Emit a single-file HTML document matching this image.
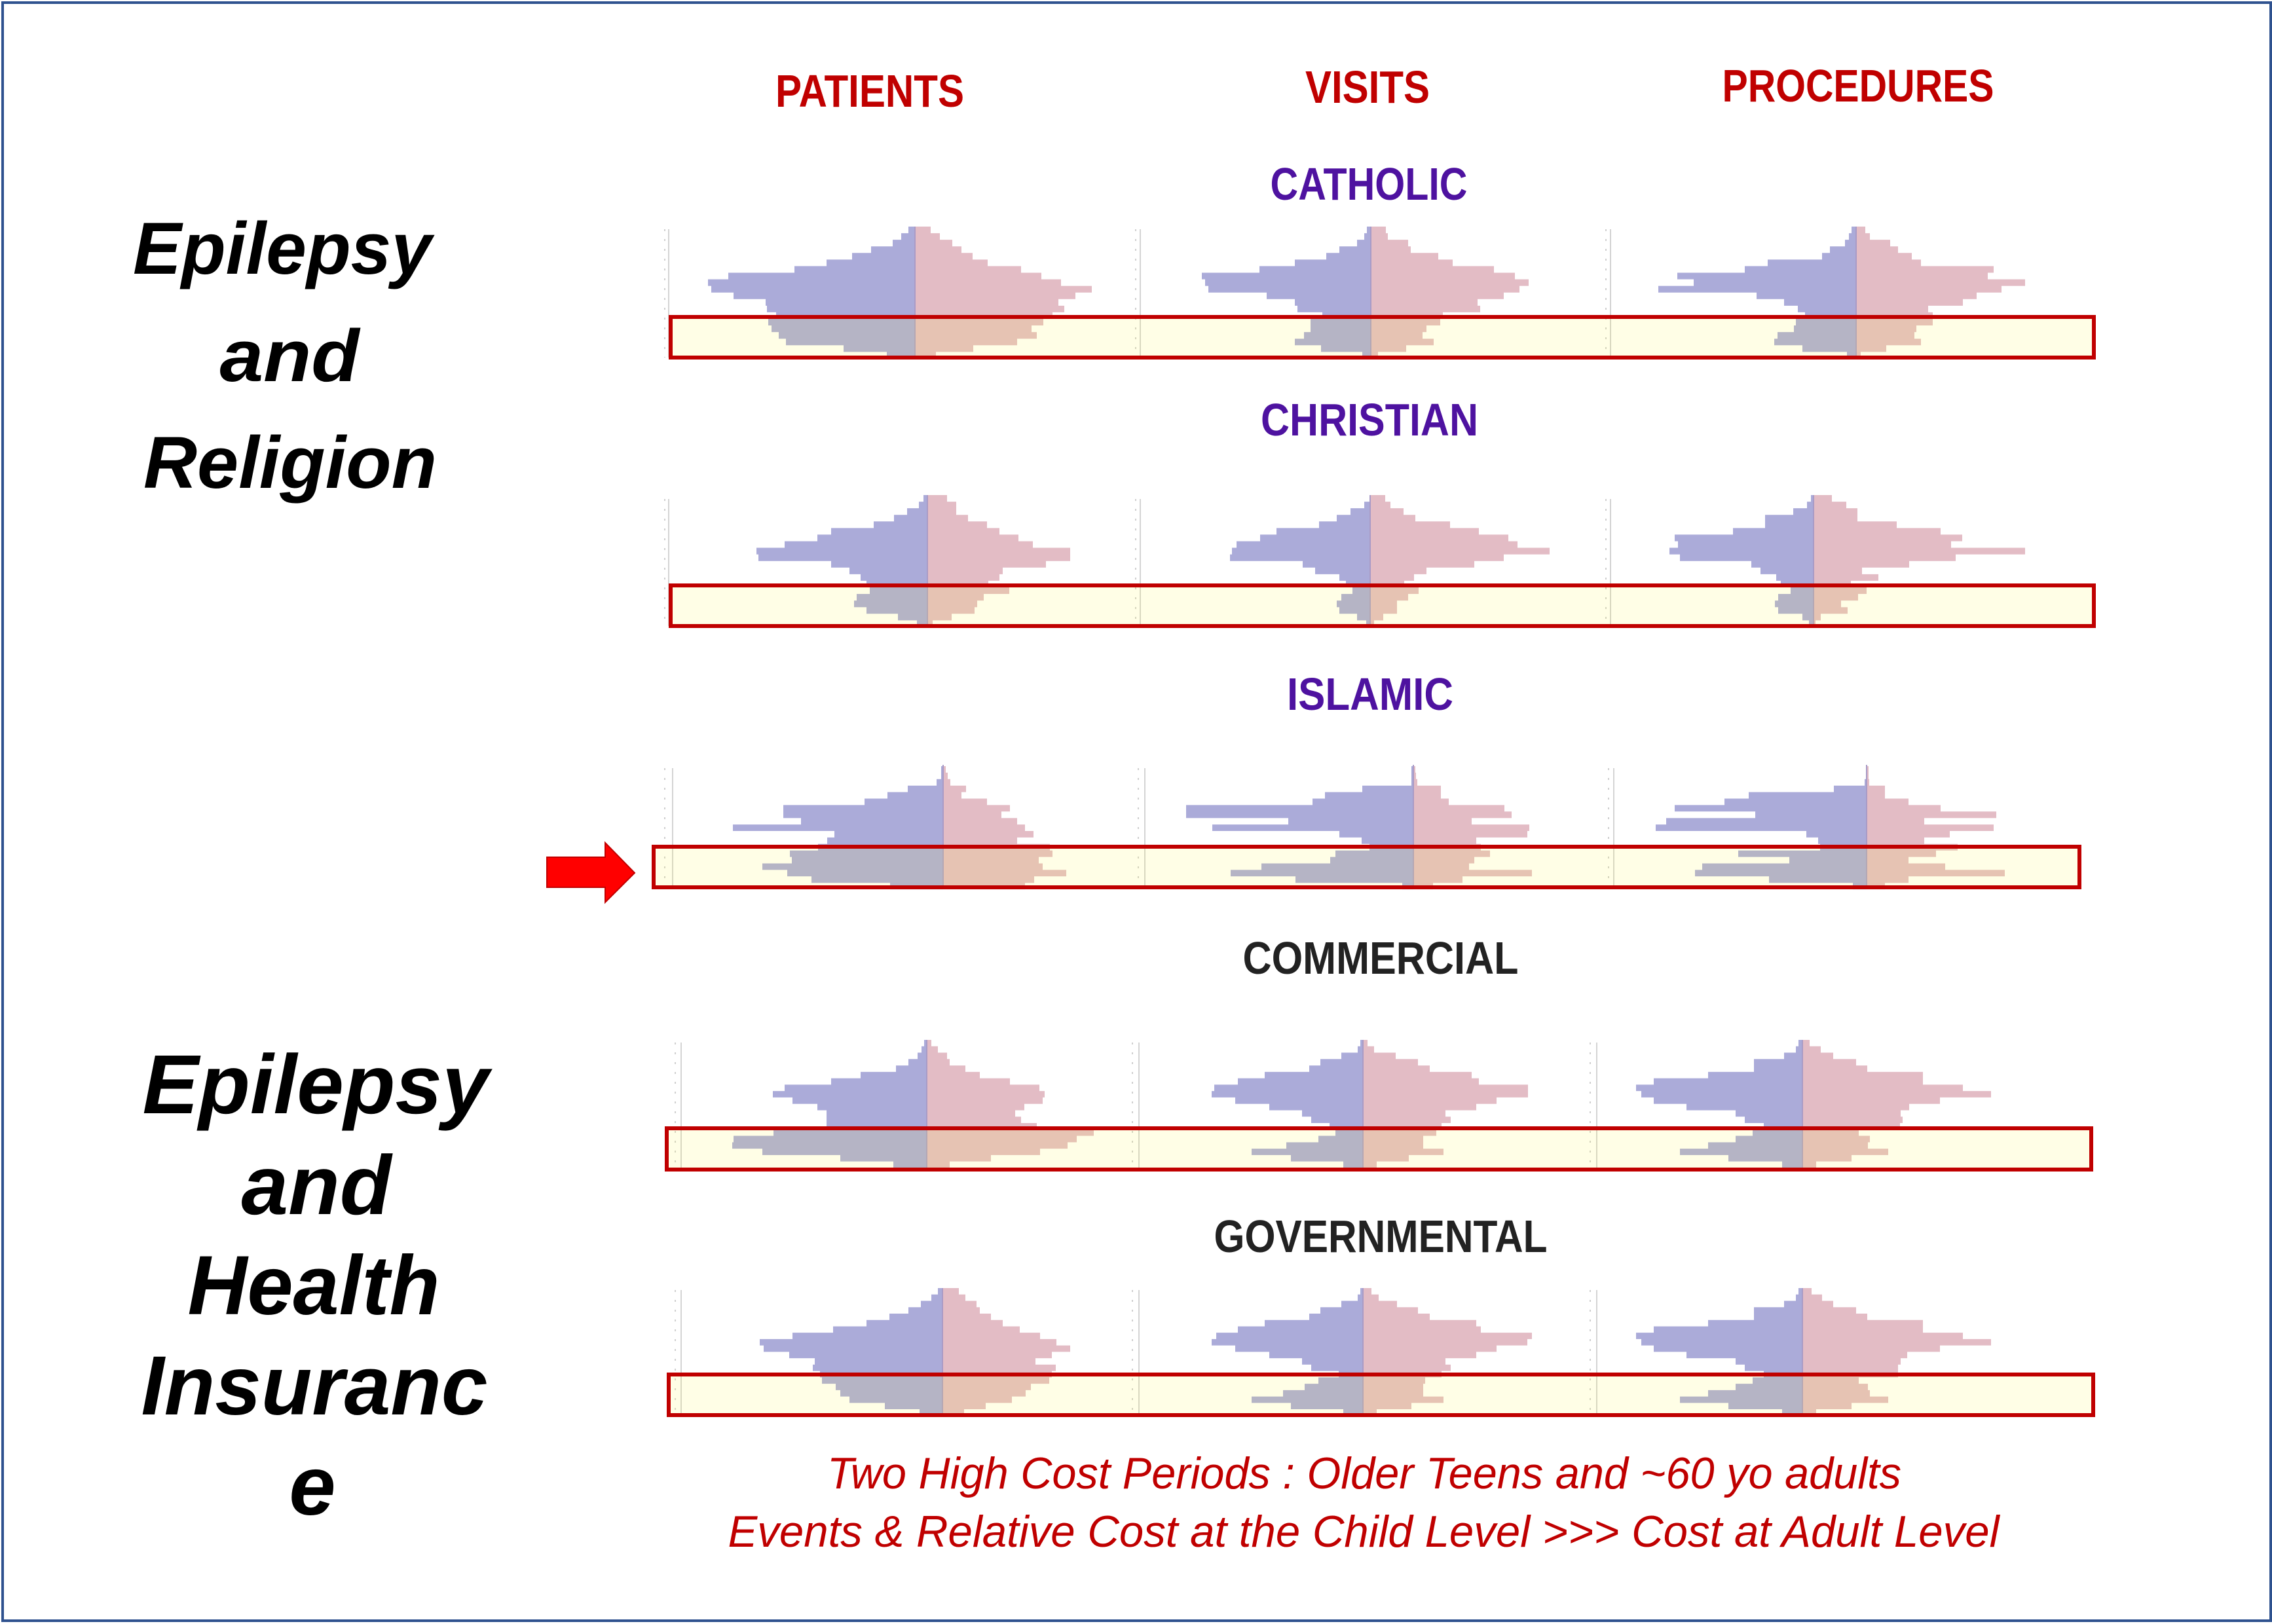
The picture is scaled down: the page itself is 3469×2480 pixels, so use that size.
<!DOCTYPE html>
<html>
<head>
<meta charset="utf-8">
<style>
  html,body{margin:0;padding:0;background:#fff;}
  svg{display:block;}
  .hdr{font-family:"Liberation Sans",Arial,sans-serif;font-weight:bold;font-size:70px;}
  .ttl{font-family:"Liberation Sans",Arial,sans-serif;font-weight:bold;font-style:italic;fill:#000;}
  .note{font-family:"Liberation Sans",Arial,sans-serif;font-style:italic;font-size:68px;fill:#C00000;}
</style>
</head>
<body>
<svg width="3469" height="2480" viewBox="0 0 3469 2480" xmlns="http://www.w3.org/2000/svg">
  <rect x="0" y="0" width="3469" height="2480" fill="#fff"/>

  <!-- axis lines -->
  <g stroke="#D4D4D4" stroke-width="2">
    <line x1="1021" y1="350" x2="1021" y2="546"/><line x1="1741" y1="350" x2="1741" y2="546"/><line x1="2459" y1="350" x2="2459" y2="546"/>
    <line x1="1021" y1="762" x2="1021" y2="956"/><line x1="1741" y1="762" x2="1741" y2="956"/><line x1="2459" y1="762" x2="2459" y2="956"/>
    <line x1="1027" y1="1173" x2="1027" y2="1356"/><line x1="1748" y1="1173" x2="1748" y2="1356"/><line x1="2464" y1="1173" x2="2464" y2="1356"/>
    <line x1="1040" y1="1592" x2="1040" y2="1786"/><line x1="1739" y1="1592" x2="1739" y2="1786"/><line x1="2438" y1="1592" x2="2438" y2="1786"/>
    <line x1="1040" y1="1970" x2="1040" y2="2161"/><line x1="1739" y1="1970" x2="1739" y2="2161"/><line x1="2438" y1="1970" x2="2438" y2="2161"/>
  </g>
  <g stroke="#CFCFCF" stroke-width="2" stroke-dasharray="3 12">
    <line x1="1015" y1="350" x2="1015" y2="546"/><line x1="1734" y1="350" x2="1734" y2="546"/><line x1="2452" y1="350" x2="2452" y2="546"/>
    <line x1="1015" y1="762" x2="1015" y2="956"/><line x1="1734" y1="762" x2="1734" y2="956"/><line x1="2452" y1="762" x2="2452" y2="956"/>
    <line x1="1015" y1="1173" x2="1015" y2="1356"/><line x1="1738" y1="1173" x2="1738" y2="1356"/><line x1="2456" y1="1173" x2="2456" y2="1356"/>
    <line x1="1031" y1="1592" x2="1031" y2="1786"/><line x1="1729" y1="1592" x2="1729" y2="1786"/><line x1="2428" y1="1592" x2="2428" y2="1786"/>
    <line x1="1031" y1="1970" x2="1031" y2="2161"/><line x1="1729" y1="1970" x2="1729" y2="2161"/><line x1="2428" y1="1970" x2="2428" y2="2161"/>
  </g>

  <!-- ROW 1 : CATHOLIC -->
  <g transform="translate(1397,346) scale(1,1.007)">
    <path fill="#ABABD9" d="M0 0H-10v10H-21v10H-34v10H-67v10H-96v10H-135v10H-184v10H-285v10H-316v10H-311v10H-277v10H-228v10H-226v10H-212v10H-224v10H-219v10H-208v10H-197v10H-109v10H-43v10H0Z"/>
    <path fill="#E3BCC5" d="M0 0H24v10H38v10H57v10H71v10H88v10H111v10H162v10H193v10H223v10H270v10H245v10H219v10H228v10H210v10H196v10H178v10H186v10H156v10H89v10H32v10H0Z"/>
  </g>
  <g transform="translate(2093,346) scale(1,1.007)">
    <path fill="#ABABD9" d="M0 0H-6v10H-10v10H-21v10H-48v10H-68v10H-116v10H-170v10H-258v10H-253v10H-248v10H-159v10H-116v10H-112v10H-74v10H-92v10H-92v10H-102v10H-116v10H-76v10H-13v10H0Z"/>
    <path fill="#E3BCC5" d="M0 0H23v10H26v10H57v10H61v10H103v10H125v10H188v10H220v10H241v10H227v10H203v10H163v10H167v10H110v10H106v10H85v10H79v10H96v10H54v10H11v10H0Z"/>
  </g>
  <g transform="translate(2834,346) scale(1,1.007)">
    <path fill="#ABABD9" d="M0 0H-7v10H-11v10H-17v10H-40v10H-52v10H-135v10H-170v10H-273v10H-248v10H-302v10H-152v10H-110v10H-89v10H-78v10H-92v10H-95v10H-120v10H-125v10H-82v10H-14v10H0Z"/>
    <path fill="#E3BCC5" d="M0 0H14v10H21v10H52v10H64v10H85v10H99v10H210v10H201v10H258v10H222v10H184v10H163v10H110v10H117v10H117v10H92v10H89v10H99v10H46v10H7v10H0Z"/>
  </g>

  <!-- ROW 2 : CHRISTIAN -->
  <g transform="translate(1416,756) scale(1,1.007)">
    <path fill="#ABABD9" d="M0 0H-6v10H-13v10H-31v10H-51v10H-82v10H-147v10H-168v10H-218v10H-261v10H-258v10H-147v10H-119v10H-102v10H-93v10H-88v10H-108v10H-112v10H-93v10H-45v10H-16v10H0Z"/>
    <path fill="#E3BCC5" d="M0 0H30v10H44v10H44v10H62v10H91v10H110v10H139v10H161v10H218v10H218v10H181v10H115v10H110v10H93v10H125v10H86v10H76v10H72v10H37v10H8v10H0Z"/>
  </g>
  <g transform="translate(2092,756) scale(1,1.007)">
    <path fill="#ABABD9" d="M0 0H-1v10H-9v10H-30v10H-51v10H-78v10H-143v10H-168v10H-204v10H-211v10H-214v10H-103v10H-84v10H-47v10H-37v10H-27v10H-44v10H-51v10H-47v10H-20v10H-6v10H0Z"/>
    <path fill="#E3BCC5" d="M0 0H23v10H31v10H51v10H69v10H122v10H166v10H211v10H225v10H274v10H204v10H159v10H86v10H67v10H52v10H74v10H58v10H41v10H41v10H20v10H6v10H0Z"/>
  </g>
  <g transform="translate(2769,756) scale(1,1.007)">
    <path fill="#ABABD9" d="M0 0H-4v10H-10v10H-31v10H-74v10H-74v10H-123v10H-212v10H-207v10H-220v10H-204v10H-95v10H-81v10H-57v10H-50v10H-35v10H-54v10H-59v10H-54v10H-17v10H-7v10H0Z"/>
    <path fill="#E3BCC5" d="M0 0H28v10H50v10H67v10H67v10H127v10H194v10H227v10H210v10H323v10H217v10H146v10H74v10H99v10H57v10H81v10H68v10H42v10H52v10H11v10H3v10H0Z"/>
  </g>

  <!-- ROW 3 : ISLAMIC -->
  <g transform="translate(1440,1170) scale(1,0.99)">
    <path fill="#ABABD9" d="M0 0H-3v10H-3v10H-10v10H-54v10H-85v10H-120v10H-244v10H-244v10H-217v10H-321v10H-166v10H-177v10H-191v10H-234v10H-231v10H-276v10H-238v10H-201v10H-81v10H0Z"/>
    <path fill="#E3BCC5" d="M0 0H4v10H7v10H11v10H35v10H28v10H67v10H102v10H89v10H113v10H125v10H138v10H113v10H163v10H167v10H146v10H152v10H188v10H139v10H125v10H0Z"/>
  </g>
  <g transform="translate(2158,1170) scale(1,0.99)">
    <path fill="#ABABD9" d="M0 0H-3v10H-3v10H-3v10H-78v10H-135v10H-154v10H-347v10H-347v10H-191v10H-307v10H-113v10H-79v10H-67v10H-119v10H-127v10H-232v10H-279v10H-180v10H-17v10H0Z"/>
    <path fill="#E3BCC5" d="M0 0H3v10H4v10H6v10H42v10H42v10H54v10H139v10H150v10H89v10H177v10H174v10H96v10H103v10H117v10H93v10H85v10H181v10H75v10H30v10H0Z"/>
  </g>
  <g transform="translate(2850,1170) scale(1,0.99)">
    <path fill="#ABABD9" d="M0 0H-1v10H-1v10H-3v10H-50v10H-180v10H-217v10H-293v10H-170v10H-306v10H-322v10H-92v10H-74v10H-71v10H-196v10H-118v10H-251v10H-262v10H-149v10H-21v10H0Z"/>
    <path fill="#E3BCC5" d="M0 0H3v10H3v10H4v10H28v10H28v10H64v10H113v10H198v10H88v10H194v10H127v10H88v10H139v10H106v10H64v10H120v10H211v10H64v10H28v10H0Z"/>
  </g>

  <!-- ROW 4 : COMMERCIAL -->
  <g transform="translate(1415,1588) scale(1,0.977)">
    <path fill="#ABABD9" d="M0 0H-4v10H-8v10H-14v10H-28v10H-47v10H-101v10H-146v10H-217v10H-235v10H-205v10H-167v10H-153v10H-153v10H-153v10H-234v10H-295v10H-297v10H-251v10H-132v10H-51v10H0Z"/>
    <path fill="#E3BCC5" d="M0 0H7v10H17v10H31v10H35v10H59v10H81v10H127v10H172v10H180v10H177v10H149v10H135v10H144v10H168v10H255v10H229v10H215v10H173v10H98v10H35v10H0Z"/>
  </g>
  <g transform="translate(2081,1588) scale(1,0.977)">
    <path fill="#ABABD9" d="M0 0H-4v10H-8v10H-33v10H-65v10H-82v10H-150v10H-191v10H-227v10H-231v10H-195v10H-143v10H-93v10H-79v10H-51v10H-42v10H-68v10H-117v10H-170v10H-110v10H-30v10H0Z"/>
    <path fill="#E3BCC5" d="M0 0H7v10H17v10H50v10H84v10H102v10H166v10H177v10H252v10H252v10H204v10H173v10H126v10H134v10H120v10H112v10H92v10H92v10H123v10H70v10H21v10H0Z"/>
  </g>
  <g transform="translate(2752,1588) scale(1,0.977)">
    <path fill="#ABABD9" d="M0 0H-6v10H-10v10H-28v10H-74v10H-74v10H-144v10H-227v10H-254v10H-246v10H-227v10H-177v10H-102v10H-88v10H-59v10H-76v10H-102v10H-144v10H-187v10H-113v10H-31v10H0Z"/>
    <path fill="#E3BCC5" d="M0 0H11v10H28v10H47v10H82v10H99v10H184v10H184v10H245v10H288v10H210v10H163v10H150v10H153v10H149v10H86v10H103v10H100v10H131v10H75v10H21v10H0Z"/>
  </g>

  <!-- ROW 5 : GOVERNMENTAL -->
  <g transform="translate(1439,1967) scale(1,0.974)">
    <path fill="#ABABD9" d="M0 0H-7v10H-17v10H-33v10H-52v10H-81v10H-116v10H-167v10H-229v10H-279v10H-273v10H-234v10H-195v10H-198v10H-187v10H-184v10H-163v10H-156v10H-142v10H-88v10H-35v10H0Z"/>
    <path fill="#E3BCC5" d="M0 0H25v10H35v10H52v10H57v10H74v10H92v10H118v10H149v10H174v10H195v10H167v10H142v10H173v10H167v10H163v10H135v10H127v10H106v10H66v10H33v10H0Z"/>
  </g>
  <g transform="translate(2081,1967) scale(1,0.974)">
    <path fill="#ABABD9" d="M0 0H-4v10H-8v10H-33v10H-65v10H-82v10H-150v10H-191v10H-224v10H-231v10H-195v10H-143v10H-93v10H-79v10H-37v10H-68v10H-89v10H-122v10H-170v10H-110v10H-30v10H0Z"/>
    <path fill="#E3BCC5" d="M0 0H13v10H24v10H52v10H84v10H102v10H173v10H180v10H258v10H251v10H204v10H173v10H126v10H134v10H120v10H95v10H92v10H92v10H123v10H74v10H21v10H0Z"/>
  </g>
  <g transform="translate(2752,1967) scale(1,0.974)">
    <path fill="#ABABD9" d="M0 0H-6v10H-10v10H-28v10H-74v10H-74v10H-144v10H-227v10H-254v10H-246v10H-227v10H-177v10H-102v10H-88v10H-59v10H-76v10H-102v10H-144v10H-187v10H-113v10H-31v10H0Z"/>
    <path fill="#E3BCC5" d="M0 0H14v10H30v10H47v10H82v10H99v10H184v10H184v10H245v10H288v10H210v10H160v10H150v10H146v10H146v10H86v10H100v10H103v10H131v10H75v10H21v10H0Z"/>
  </g>

  <!-- center lines -->
  <g stroke="#A99BC6" stroke-width="2">
    <line x1="1397" y1="346" x2="1397" y2="546"/><line x1="2093" y1="346" x2="2093" y2="546"/><line x1="2834" y1="346" x2="2834" y2="546"/>
    <line x1="1416" y1="756" x2="1416" y2="956"/><line x1="2092" y1="756" x2="2092" y2="956"/><line x1="2769" y1="756" x2="2769" y2="956"/>
    <line x1="1440" y1="1168" x2="1440" y2="1356"/><line x1="2158" y1="1168" x2="2158" y2="1356"/><line x1="2850" y1="1168" x2="2850" y2="1356"/>
    <line x1="1415" y1="1588" x2="1415" y2="1786"/><line x1="2081" y1="1588" x2="2081" y2="1786"/><line x1="2752" y1="1588" x2="2752" y2="1786"/>
    <line x1="1439" y1="1967" x2="1439" y2="2161"/><line x1="2081" y1="1967" x2="2081" y2="2161"/><line x1="2752" y1="1967" x2="2752" y2="2161"/>
  </g>

  <!-- highlight boxes -->
  <g fill="rgba(255,248,60,0.13)" stroke="#C00000" stroke-width="6">
    <rect x="1024" y="484" width="2173" height="62"/>
    <rect x="1024" y="894" width="2173" height="62"/>
    <rect x="998" y="1293" width="2177" height="62"/>
    <rect x="1018" y="1723" width="2175" height="63"/>
    <rect x="1021" y="2099" width="2175" height="62"/>
  </g>

  <!-- arrow -->
  <polygon points="835,1309 924,1309 924,1287 969,1333 924,1378 924,1355 835,1355" fill="#FF0000" stroke="#C00000" stroke-width="2"/>

  <!-- column headers -->
  <text class="hdr" x="1328" y="163" text-anchor="middle" textLength="288" lengthAdjust="spacingAndGlyphs" fill="#C00000">PATIENTS</text>
  <text class="hdr" x="2088" y="157" text-anchor="middle" textLength="190" lengthAdjust="spacingAndGlyphs" fill="#C00000">VISITS</text>
  <text class="hdr" x="2837" y="155" text-anchor="middle" textLength="415" lengthAdjust="spacingAndGlyphs" fill="#C00000">PROCEDURES</text>

  <!-- group labels -->
  <text class="hdr" x="2090" y="305" text-anchor="middle" textLength="301" lengthAdjust="spacingAndGlyphs" fill="#4E12A0">CATHOLIC</text>
  <text class="hdr" x="2091" y="665" text-anchor="middle" textLength="332" lengthAdjust="spacingAndGlyphs" fill="#4E12A0">CHRISTIAN</text>
  <text class="hdr" x="2092" y="1084" text-anchor="middle" textLength="254" lengthAdjust="spacingAndGlyphs" fill="#4E12A0">ISLAMIC</text>
  <text class="hdr" x="2108" y="1487" text-anchor="middle" textLength="421" lengthAdjust="spacingAndGlyphs" fill="#222222">COMMERCIAL</text>
  <text class="hdr" x="2108" y="1912" text-anchor="middle" textLength="509" lengthAdjust="spacingAndGlyphs" fill="#222222">GOVERNMENTAL</text>

  <!-- left titles (upper) -->
  <text class="ttl" font-size="112" x="431" y="418" text-anchor="middle" textLength="456" lengthAdjust="spacingAndGlyphs">Epilepsy</text>
  <text class="ttl" font-size="112" x="442" y="582" text-anchor="middle" textLength="213" lengthAdjust="spacingAndGlyphs">and</text>
  <text class="ttl" font-size="112" x="443" y="745" text-anchor="middle" textLength="448" lengthAdjust="spacingAndGlyphs">Religion</text>

  <!-- left titles (lower) -->
  <text class="ttl" font-size="128" x="482" y="1700" text-anchor="middle" textLength="529" lengthAdjust="spacingAndGlyphs">Epilepsy</text>
  <text class="ttl" font-size="128" x="483" y="1854" text-anchor="middle" textLength="229" lengthAdjust="spacingAndGlyphs">and</text>
  <text class="ttl" font-size="128" x="479" y="2007" text-anchor="middle" textLength="385" lengthAdjust="spacingAndGlyphs">Health</text>
  <text class="ttl" font-size="128" x="480" y="2160" text-anchor="middle" textLength="529" lengthAdjust="spacingAndGlyphs">Insuranc</text>
  <text class="ttl" font-size="128" x="477" y="2313" text-anchor="middle">e</text>

  <!-- bottom notes -->
  <text class="note" x="2083" y="2273" text-anchor="middle" textLength="1640" lengthAdjust="spacingAndGlyphs">Two High Cost Periods : Older Teens and ~60 yo adults</text>
  <text class="note" x="2082" y="2362" text-anchor="middle" textLength="1941" lengthAdjust="spacingAndGlyphs">Events &amp; Relative Cost at the Child Level &gt;&gt;&gt; Cost  at Adult Level</text>

  <!-- frame -->
  <rect x="4" y="4" width="3463" height="2471" fill="none" stroke="#2F528F" stroke-width="4"/>
</svg>
</body>
</html>
